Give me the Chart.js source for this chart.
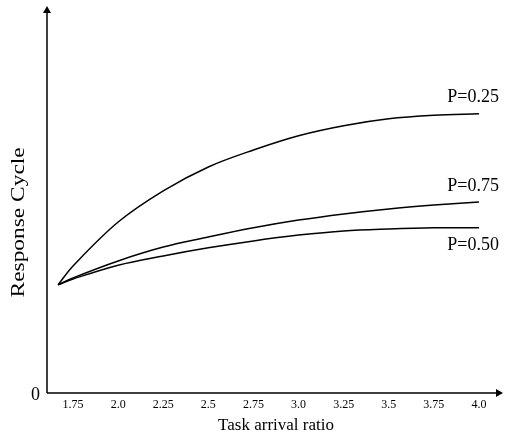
<!DOCTYPE html>
<html>
<head>
<meta charset="utf-8">
<script src="https://cdn.jsdelivr.net/npm/chart.js@4.4.1/dist/chart.umd.min.js"></script>
<style>
    html, body { margin: 0; padding: 0; background: #fff; }
    #wrap { width: 510px; height: 434px; }
</style>
</head>
<body>
<div id="wrap"><canvas id="chart" width="510" height="434"></canvas></div>
<script>
// Data
const xValues = [1.667, 1.75, 2.0, 2.25, 2.5, 2.75, 3.0, 3.25, 3.5, 3.75, 4.0];
const p25 = [2.81, 3.30, 4.44, 5.25, 5.87, 6.31, 6.68, 6.94, 7.12, 7.21, 7.25];
const p75 = [2.81, 2.99, 3.43, 3.79, 4.05, 4.29, 4.49, 4.65, 4.78, 4.88, 4.96];
const p50 = [2.81, 2.96, 3.32, 3.56, 3.77, 3.95, 4.10, 4.21, 4.26, 4.29, 4.29];
const xTicks = [1.75, 2.0, 2.25, 2.5, 2.75, 3.0, 3.25, 3.5, 3.75, 4.0];
const xTickLabels = ['1.75', '2.0', '2.25', '2.5', '2.75', '3.0', '3.25', '3.5', '3.75', '4.0'];
const seriesNames = ['P=0.25', 'P=0.75', 'P=0.50'];

const SERIF = '"Liberation Serif", "Times New Roman", serif';

function toPoints(ys) {
    return xValues.map((x, i) => ({ x: x, y: ys[i] }));
}

// Axes with arrows, tick labels, titles and curve labels
const axesPlugin = {
    id: 'axesPlugin',
    afterDraw(chart) {
        const ctx = chart.ctx;
        const xs = chart.scales.x;
        const ys = chart.scales.y;
        const left = xs.left, right = xs.right;
        const top = ys.top, bottom = ys.bottom;

        ctx.save();
        ctx.strokeStyle = '#000';
        ctx.fillStyle = '#000';
        ctx.lineWidth = 1.5;

        // axis lines
        ctx.beginPath();
        ctx.moveTo(left, bottom);
        ctx.lineTo(right - 6, bottom);
        ctx.moveTo(left, bottom);
        ctx.lineTo(left, top + 6);
        ctx.stroke();

        // arrow heads
        ctx.beginPath();
        ctx.moveTo(right, bottom);
        ctx.lineTo(right - 7, bottom - 4);
        ctx.lineTo(right - 7, bottom + 4);
        ctx.closePath();
        ctx.fill();
        ctx.beginPath();
        ctx.moveTo(left, top);
        ctx.lineTo(left - 4, top + 7);
        ctx.lineTo(left + 4, top + 7);
        ctx.closePath();
        ctx.fill();

        // x tick labels
        ctx.font = '12px ' + SERIF;
        ctx.textAlign = 'center';
        ctx.textBaseline = 'middle';
        xTicks.forEach((v, i) => {
            ctx.fillText(xTickLabels[i], xs.getPixelForValue(v), bottom + 12);
        });

        // origin label
        ctx.font = '18px ' + SERIF;
        ctx.textAlign = 'right';
        ctx.fillText('0', left - 7, ys.getPixelForValue(0) + 2);

        // x title
        ctx.font = '17px ' + SERIF;
        ctx.textAlign = 'center';
        ctx.fillText('Task arrival ratio', (xs.getPixelForValue(2.5) + xs.getPixelForValue(3.25)) / 2, bottom + 33);

        // y title (stretched along its length like the original)
        ctx.save();
        ctx.font = '18px ' + SERIF;
        ctx.translate(19, ys.getPixelForValue(4.43));
        ctx.rotate(-Math.PI / 2);
        ctx.scale(1.3, 1);
        ctx.fillText('Response Cycle', 0, 0);
        ctx.restore();

        // curve labels
        ctx.font = '18px ' + SERIF;
        const xEnd = xs.getPixelForValue(4.0);
        const last = xValues.length - 1;
        ctx.textAlign = 'right';
        ctx.fillText(seriesNames[0], xEnd + 20, ys.getPixelForValue(p25[last]) - 17);
        ctx.fillText(seriesNames[1], xEnd + 20, ys.getPixelForValue(p75[last]) - 16);
        ctx.fillText(seriesNames[2], xEnd + 20, ys.getPixelForValue(p50[last]) + 17);

        ctx.restore();
    }
};

const lineStyle = {
    borderColor: '#000',
    borderWidth: 1.5,
    pointRadius: 0,
    fill: false,
    tension: 0.35
};

new Chart(document.getElementById('chart').getContext('2d'), {
    type: 'line',
    data: {
        datasets: [
            Object.assign({ label: seriesNames[0], data: toPoints(p25) }, lineStyle),
            Object.assign({ label: seriesNames[1], data: toPoints(p75) }, lineStyle),
            Object.assign({ label: seriesNames[2], data: toPoints(p50) }, lineStyle)
        ]
    },
    options: {
        responsive: false,
        animation: false,
        layout: { padding: { left: 47, right: 7, top: 6, bottom: 41 } },
        plugins: {
            legend: { display: false },
            tooltip: { enabled: false }
        },
        scales: {
            x: { type: 'linear', min: 1.6056, max: 4.1333, display: false },
            y: { type: 'linear', min: 0, max: 10.05, display: false }
        }
    },
    plugins: [axesPlugin]
});
</script>
</body>
</html>
